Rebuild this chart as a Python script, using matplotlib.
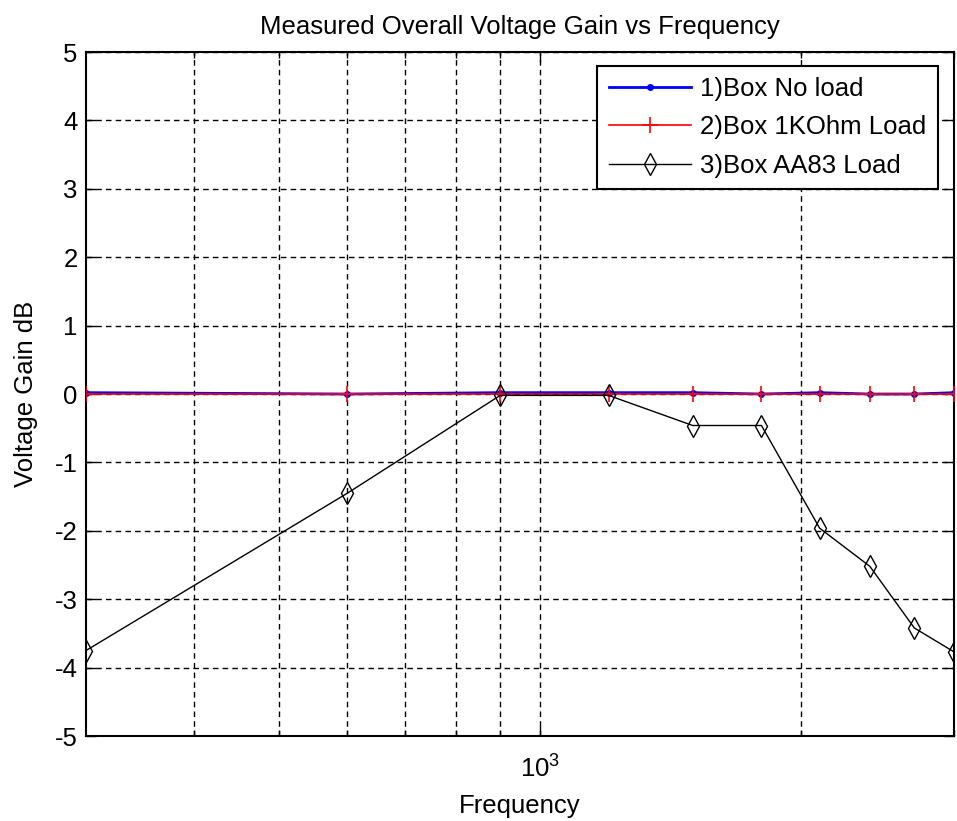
import matplotlib
matplotlib.use("Agg")
import matplotlib.pyplot as plt
from matplotlib.ticker import FixedLocator, FixedFormatter, NullFormatter

plt.rcParams["font.family"] = ["Liberation Sans", "DejaVu Sans"]
plt.rcParams["mathtext.default"] = "regular"

# data
freq = [300, 600, 900, 1200, 1500, 1800, 2100, 2400, 2700, 3000]
gain_no_load = [0.02, 0.0, 0.02, 0.02, 0.02, 0.0, 0.02, 0.0, 0.0, 0.02]
gain_1k_load = [0.0, 0.0, 0.0, 0.0, 0.0, 0.0, 0.0, 0.0, 0.0, 0.0]
gain_aa83_load = [-3.75, -1.45, -0.02, -0.02, -0.46, -0.46, -1.96, -2.52, -3.42, -3.77]
labels = ["1)Box No load", "2)Box 1KOhm Load", "3)Box AA83 Load"]

FS = 18.5

fig = plt.figure(figsize=(9.57, 8.21), dpi=100)
ax = fig.add_axes([0.0899, 0.1035, 0.907, 0.8331])

ax.plot(freq, gain_no_load, color="#0000ff", lw=2.0, marker=".", markersize=8,
        label=labels[0], zorder=3)
ax.plot(freq, gain_1k_load, color="#ff0000", lw=1.2, marker="+", markersize=12,
        markeredgewidth=1.2, label=labels[1], zorder=4)
ax.plot(freq, gain_aa83_load, color="black", lw=1.0, marker="d", markersize=11,
        markerfacecolor="none", markeredgewidth=1.0, label=labels[2], zorder=5)

ax.set_xscale("log")
ax.set_xlim(300, 3000)
ax.set_ylim(-5, 5)
ax.set_yticks(range(-5, 6))
ax.set_yticklabels([str(v) for v in range(-5, 6)])
ax.xaxis.set_major_locator(FixedLocator([1000]))
ax.xaxis.set_major_formatter(FixedFormatter([r"$10^3$"]))
ax.xaxis.set_minor_locator(FixedLocator([400, 500, 600, 700, 800, 900, 2000, 3000]))
ax.xaxis.set_minor_formatter(NullFormatter())

ax.grid(True, which="both", axis="x", color="black", linestyle=(0, (4, 3)), linewidth=1.0)
ax.grid(True, which="major", axis="y", color="black", linestyle=(0, (4, 3)), linewidth=1.0)
ax.set_axisbelow(True)

ax.tick_params(which="major", direction="in", length=7, width=1.0, top=True, right=True,
               labelsize=FS, pad=6)
ax.tick_params(axis="x", which="major", pad=14)
ax.tick_params(which="minor", direction="in", length=4, width=1.0, top=True, right=True)
for s in ax.spines.values():
    s.set_linewidth(1.5)
    s.set_color("black")

ax.set_title("Measured Overall Voltage Gain vs Frequency", fontsize=FS, pad=13)
ax.set_xlabel("Frequency", fontsize=FS, labelpad=8)
ax.set_ylabel("Voltage Gain dB", fontsize=FS, labelpad=12)

leg = ax.legend(loc="upper right", bbox_to_anchor=(0.981, 0.98), borderaxespad=0,
                fontsize=FS, fancybox=False, framealpha=1, edgecolor="black",
                handlelength=3.2, handletextpad=0.35, labelspacing=0.55,
                borderpad=0.45)
leg.get_frame().set_linewidth(1.5)

fig.savefig("out.png", dpi=100, facecolor="white")
